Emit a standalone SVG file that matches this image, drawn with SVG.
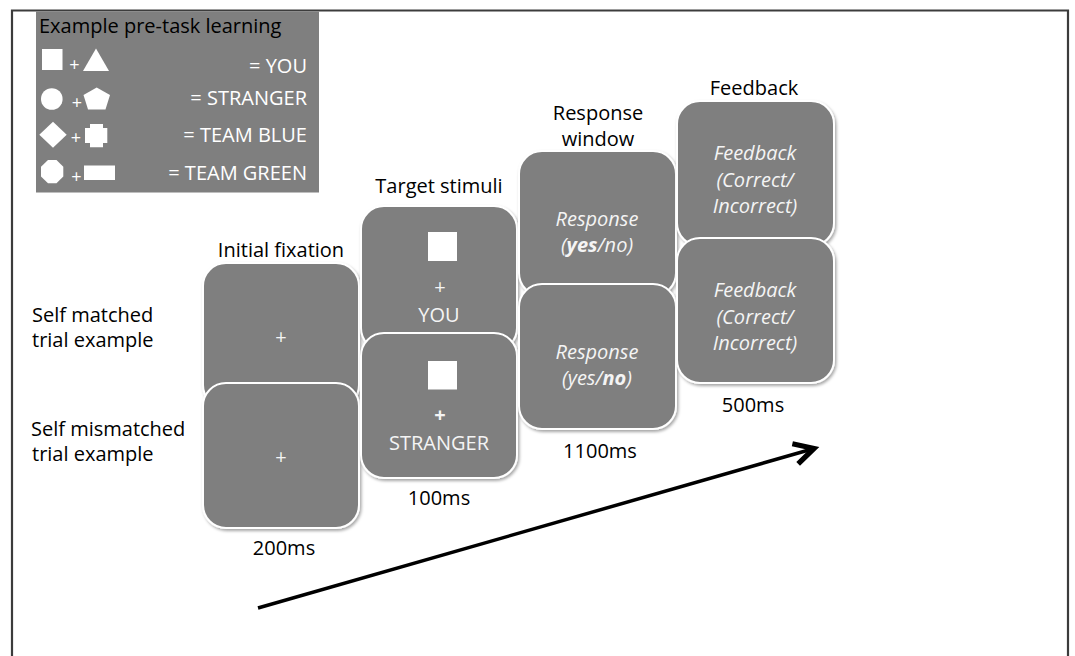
<svg xmlns="http://www.w3.org/2000/svg" width="1075" height="656" viewBox="0 0 1075 656">
  <defs>
    <filter id="shadow" x="-10%" y="-10%" width="125%" height="125%">
      <feDropShadow dx="1.5" dy="2" stdDeviation="1.8" flood-color="#000" flood-opacity="0.35"/>
    </filter>
    <marker id="chevron" markerUnits="userSpaceOnUse" markerWidth="30" markerHeight="30" viewBox="-16 -10 20 20" refX="0" refY="0" orient="auto">
      <path d="M-13,-7 L0,0 L-13,7" fill="none" stroke="#000" stroke-width="3.5" stroke-linejoin="miter" stroke-linecap="butt"/>
    </marker>
    <style>
      .frame { fill: none; stroke: #3c3c3c; stroke-width: 2.2; }
      .panel { fill: #7f7f7f; }
      .box { fill: #7f7f7f; stroke: #ffffff; stroke-width: 2; filter: url(#shadow); }
      .label { font-family: "Open Sans", "Noto Sans", sans-serif; font-size: 20px; fill: #000; }
      .mid { text-anchor: middle; }
      .inbox { font-family: "Open Sans", "Noto Sans", sans-serif; font-size: 20px; fill: #f4f4f4; text-anchor: middle; }
      .it { font-style: italic; }
      .legend { font-family: "Open Sans", "Noto Sans", sans-serif; font-size: 20px; fill: #ffffff; }
      .legplus { font-family: "Open Sans", "Noto Sans", sans-serif; font-size: 18px; fill: #ffffff; text-anchor: middle; }
      .shape { fill: #ffffff; }
      .conn { fill: none; stroke: #000; stroke-width: 3.5; }
    </style>
  </defs>

  <rect width="1075" height="656" fill="#ffffff"/>

  <!-- outer frame (open at the bottom) -->
  <path class="frame" d="M12,660 V10.5 H1068 V660"/>

  <!-- legend panel: shape pairs and their meaning -->
  <g id="legend">
    <rect class="panel" x="36" y="11.5" width="283" height="181"/>
    <text class="legend" x="39" y="33" style="fill:#000">Example pre-task learning</text>

    <rect class="shape" x="42" y="49" width="20.5" height="21"/>
    <text class="legplus" x="74.5" y="71">+</text>
    <polygon class="shape" points="96,48.5 109,71 83,71"/>
    <text class="legend" x="307" y="73" text-anchor="end">= YOU</text>

    <circle class="shape" cx="51.8" cy="99" r="10.8"/>
    <text class="legplus" x="77" y="109">+</text>
    <polygon class="shape" points="96.7,87.5 110,95 105.5,109.5 88,109.5 83.5,95"/>
    <text class="legend" x="307" y="104.5" text-anchor="end">= STRANGER</text>

    <polygon class="shape" points="53,121.7 66.7,134.7 53,147.7 39.3,134.7"/>
    <text class="legplus" x="76" y="144">+</text>
    <polygon class="shape" points="90,124 103,124 103,128 107.3,128 107.3,143 103,143 103,147.3 90,147.3 90,143 85,143 85,128 90,128"/>
    <text class="legend" x="307" y="142" text-anchor="end">= TEAM BLUE</text>

    <polygon class="shape" points="48,160 56.5,160 63.3,166.8 63.3,176.5 56.5,183.3 48,183.3 41,176.5 41,166.8"/>
    <text class="legplus" x="76.5" y="183">+</text>
    <rect class="shape" x="84" y="165.5" width="31" height="14.5"/>
    <text class="legend" x="307" y="179.5" text-anchor="end">= TEAM GREEN</text>
  </g>

  <!-- row captions -->
  <g id="caption-matched">
    <text class="label" x="32" y="322">Self matched</text>
    <text class="label" x="32" y="347">trial example</text>
  </g>
  <g id="caption-mismatched">
    <text class="label" x="31" y="436">Self mismatched</text>
    <text class="label" x="32" y="461">trial example</text>
  </g>

  <!-- stage 1: initial fixation -->
  <g id="fixation">
    <text class="label mid" x="281" y="257">Initial fixation</text>
    <g id="fixation-matched">
      <rect class="box" x="203" y="263" width="156" height="145" rx="23"/>
      <text class="inbox" x="281" y="344">+</text>
    </g>
    <g id="fixation-mismatched">
      <rect class="box" x="203" y="383" width="156" height="145" rx="23"/>
      <text class="inbox" x="281" y="464">+</text>
    </g>
    <text class="label mid" x="284" y="555">200ms</text>
  </g>

  <!-- stage 2: target stimuli -->
  <g id="target">
    <text class="label mid" x="439" y="193">Target stimuli</text>
    <g id="target-matched">
      <rect class="box" x="361" y="206" width="156" height="145" rx="23"/>
      <rect class="shape" x="428" y="232" width="29" height="29"/>
      <text class="inbox" x="440" y="294">+</text>
      <text class="inbox" x="439" y="322">YOU</text>
    </g>
    <g id="target-mismatched">
      <rect class="box" x="361" y="333" width="156" height="145" rx="23"/>
      <rect class="shape" x="428" y="361" width="29" height="28.5"/>
      <text class="inbox" x="440" y="422" font-weight="bold">+</text>
      <text class="inbox" x="439" y="450">STRANGER</text>
    </g>
    <text class="label mid" x="439" y="505">100ms</text>
  </g>

  <!-- stage 3: response window -->
  <g id="response">
    <text class="label mid" x="598" y="120">Response</text>
    <text class="label mid" x="598" y="146">window</text>
    <g id="response-matched">
      <rect class="box" x="519" y="151" width="157" height="145" rx="23"/>
      <text class="inbox it" x="597" y="226">Response</text>
      <text class="inbox it" x="597" y="252">(<tspan font-weight="bold">yes</tspan>/no)</text>
    </g>
    <g id="response-mismatched">
      <rect class="box" x="519" y="284" width="157" height="145" rx="23"/>
      <text class="inbox it" x="597" y="359">Response</text>
      <text class="inbox it" x="597" y="385">(yes/<tspan font-weight="bold">no</tspan>)</text>
    </g>
    <text class="label mid" x="600" y="458">1100ms</text>
  </g>

  <!-- stage 4: feedback -->
  <g id="feedback">
    <text class="label mid" x="754" y="95">Feedback</text>
    <g id="feedback-matched">
      <rect class="box" x="677" y="101" width="157" height="145" rx="23"/>
      <text class="inbox it" x="755" y="160">Feedback</text>
      <text class="inbox it" x="755" y="187">(Correct/</text>
      <text class="inbox it" x="755" y="213">Incorrect)</text>
    </g>
    <g id="feedback-mismatched">
      <rect class="box" x="677" y="238" width="157" height="145" rx="23"/>
      <text class="inbox it" x="755" y="297">Feedback</text>
      <text class="inbox it" x="755" y="324">(Correct/</text>
      <text class="inbox it" x="755" y="350">Incorrect)</text>
    </g>
    <text class="label mid" x="753" y="412">500ms</text>
  </g>

  <!-- time axis -->
  <g id="connectors">
    <line class="conn" x1="258" y1="608" x2="814" y2="448.5" marker-end="url(#chevron)"/>
  </g>
</svg>
